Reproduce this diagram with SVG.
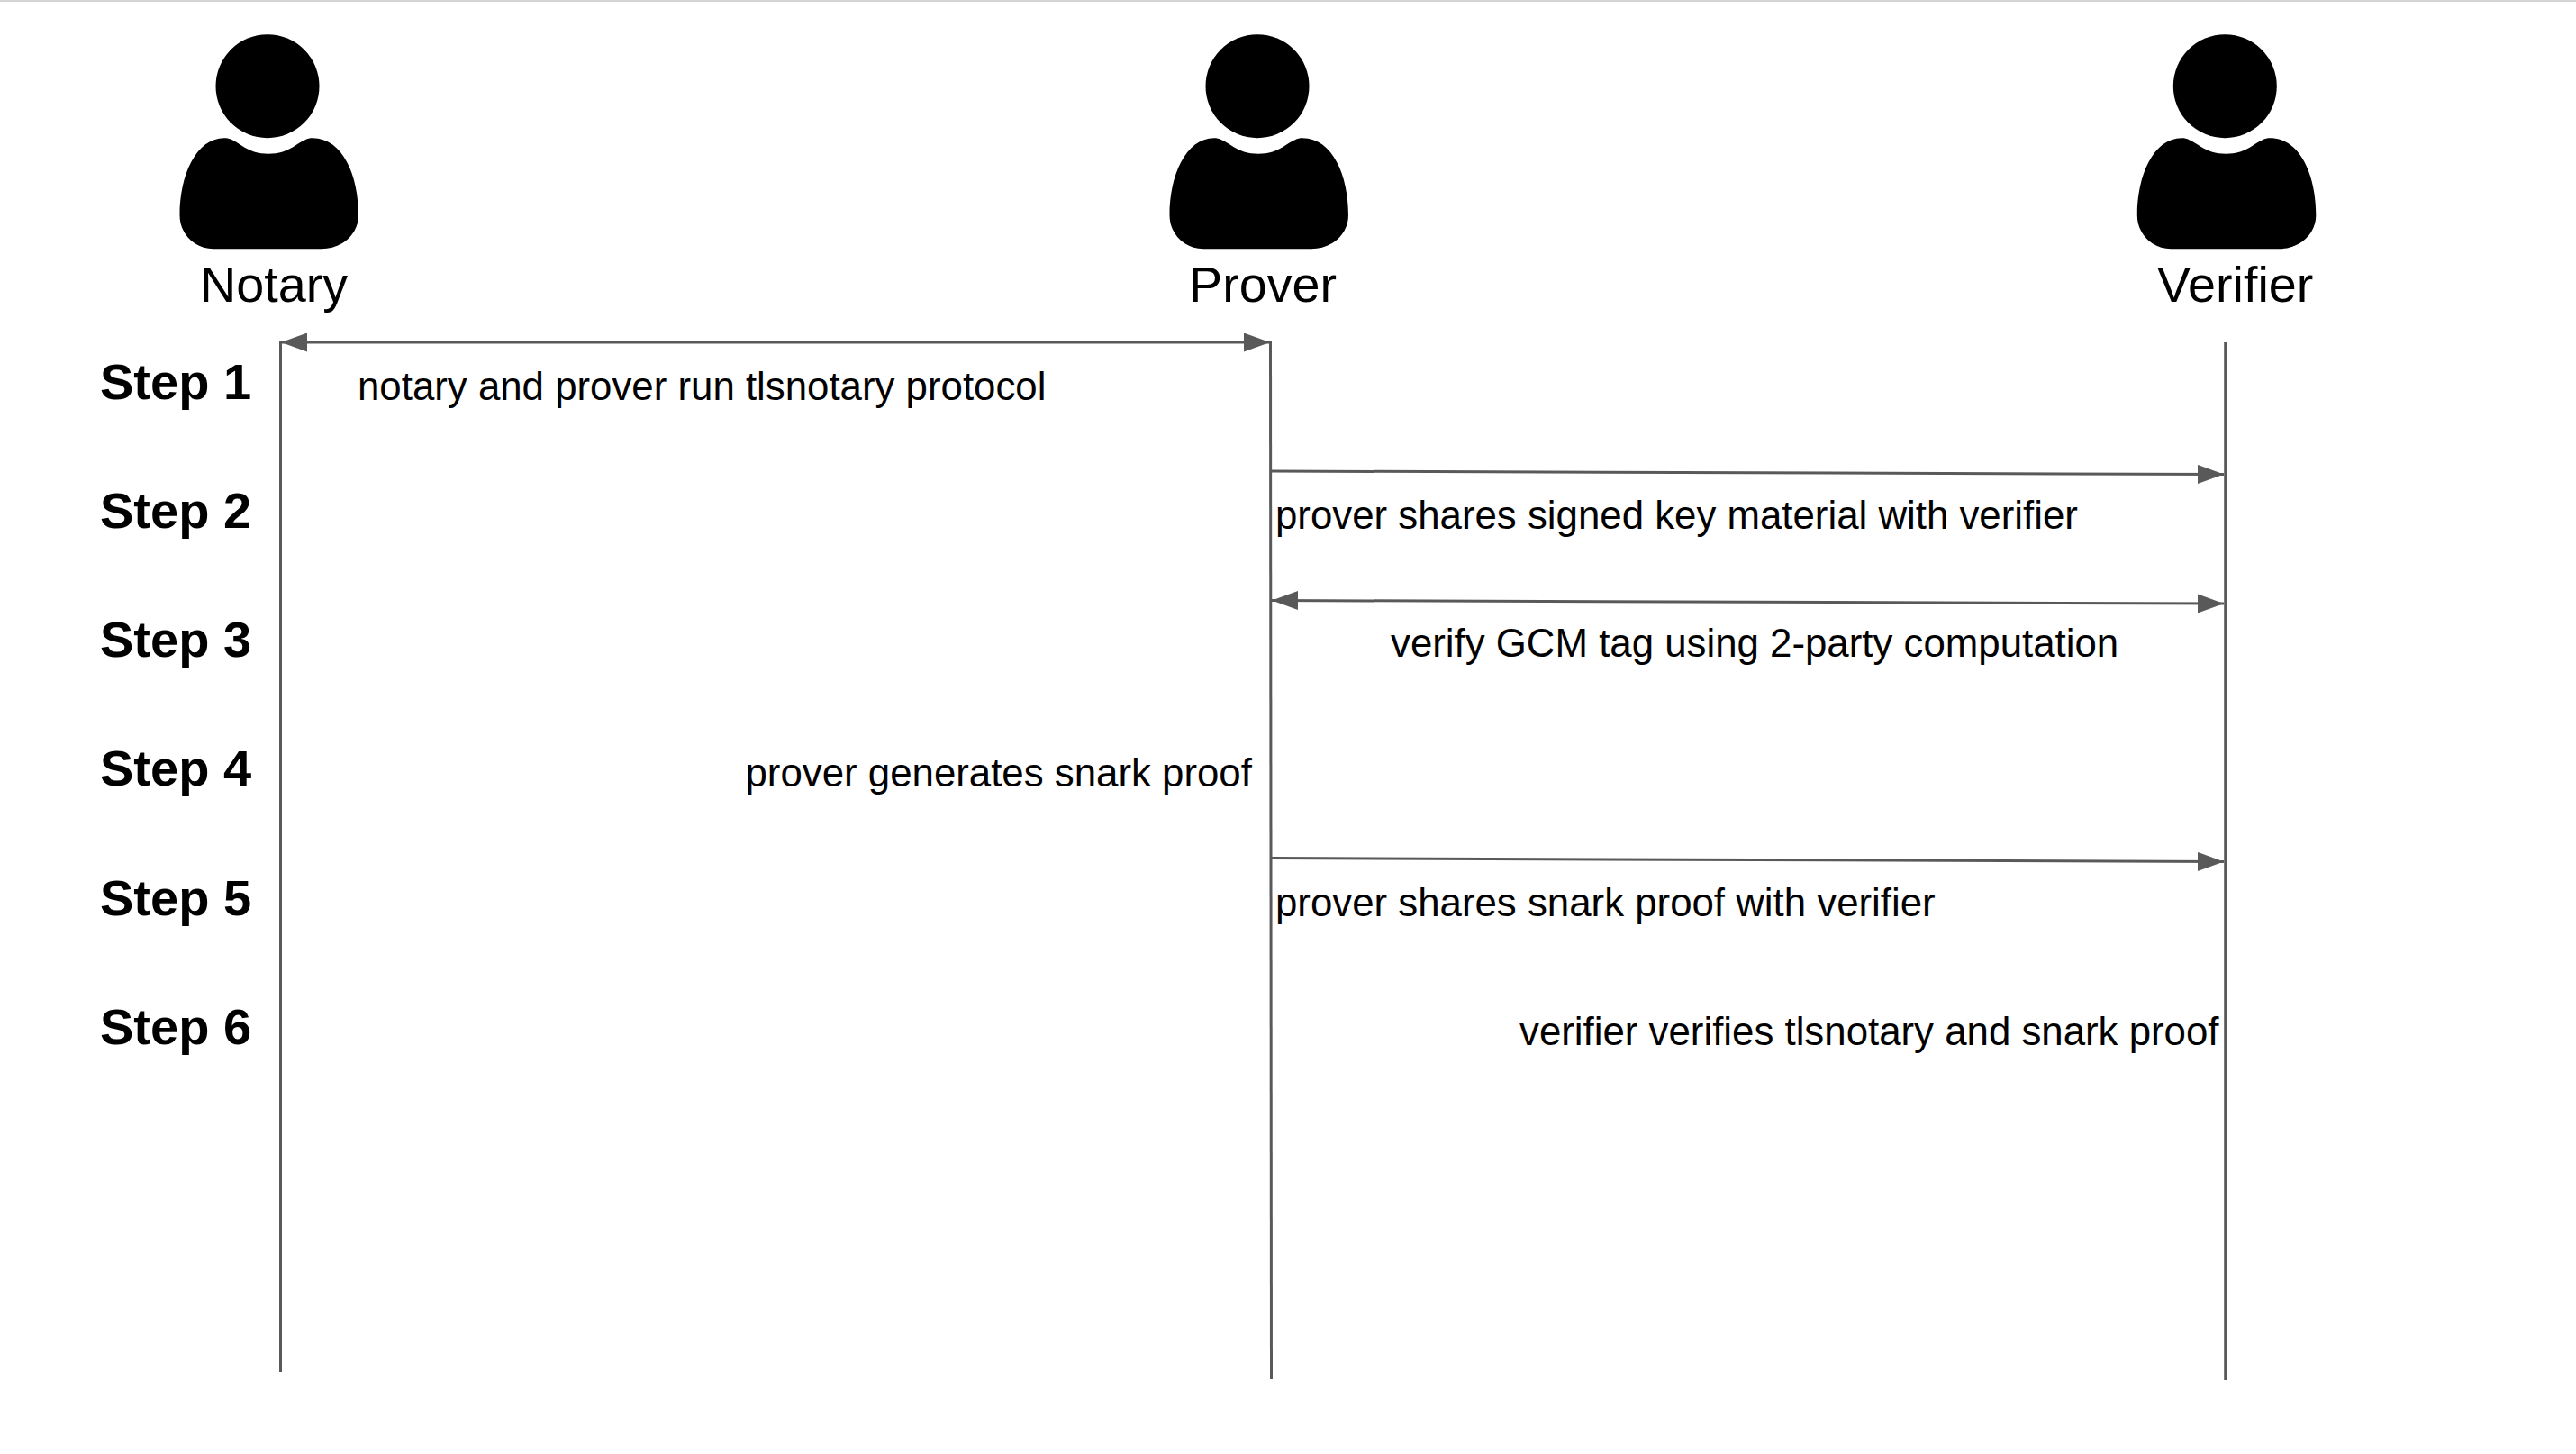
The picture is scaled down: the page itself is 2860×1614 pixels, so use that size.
<svg xmlns="http://www.w3.org/2000/svg" width="2860" height="1614" viewBox="0 0 2860 1614">
<style>
text{font-family:"Liberation Sans",Arial,sans-serif;fill:#000}
.actor{font-size:55.700px}
.step{font-size:56px;font-weight:bold}
.msg{font-size:43.800px}
.ln{stroke:#595959;stroke-width:3;fill:none}
.ah{fill:#595959}
</style>
<defs>
<g id="person">
<circle cx="0" cy="0" r="57.5"/>
<path d="M-48 57.500C-42 57.500-38 60-30 65C-20 72-10 75 1 75C12 75 22 72 32 65C40 60 44 57.500 50 57.500C84 57.500 101 100 101 143C101 165 82 180.500 60 180.500H-60C-80 180.500-97.500 165-97.500 143C-97.500 100-80 57.500-48 57.500Z"/>
</g>
<marker id="end" markerUnits="userSpaceOnUse" markerWidth="30" markerHeight="22" refX="29" refY="10.500" orient="auto"><path class="ah" d="M0 0L29 10.500L0 21Z"/></marker>
<marker id="start" markerUnits="userSpaceOnUse" markerWidth="30" markerHeight="22" refX="1" refY="10.500" orient="auto"><path class="ah" d="M30 0L1 10.500L30 21Z"/></marker>
</defs>
<rect x="0" y="0" width="2860" height="2" fill="#d4d4d4"/>
<g id="notary"><use href="#person" x="297" y="95.700"/><text class="actor" x="222" y="335">Notary</text></g>
<g id="prover"><use href="#person" x="1396" y="95.700"/><text class="actor" x="1320" y="335">Prover</text></g>
<g id="verifier"><use href="#person" x="2470.300" y="95.700"/><text class="actor" x="2395" y="335">Verifier</text></g>
<g id="connectors">
<line class="ln" x1="311.500" y1="379" x2="311.500" y2="1523"/>
<line class="ln" x1="1410.500" y1="379" x2="1411.500" y2="1531"/>
<line class="ln" x1="2470.700" y1="380" x2="2470.700" y2="1532"/>
<line class="ln" x1="312" y1="380" x2="1410" y2="380" marker-start="url(#start)" marker-end="url(#end)"/>
<line class="ln" x1="1411" y1="523" x2="2469" y2="526.500" marker-end="url(#end)"/>
<line class="ln" x1="1412" y1="666.500" x2="2469" y2="670" marker-start="url(#start)" marker-end="url(#end)"/>
<line class="ln" x1="1411" y1="952.500" x2="2469" y2="956.500" marker-end="url(#end)"/>
</g>
<g id="steps">
<text class="step" x="111" y="443">Step 1</text>
<text class="step" x="111" y="586">Step 2</text>
<text class="step" x="111" y="729">Step 3</text>
<text class="step" x="111" y="872">Step 4</text>
<text class="step" x="111" y="1016">Step 5</text>
<text class="step" x="111" y="1159">Step 6</text>
</g>
<g id="messages">
<text class="msg" x="397" y="443.500">notary and prover run tlsnotary protocol</text>
<text class="msg" x="1416" y="586.500">prover shares signed key material with verifier</text>
<text class="msg" x="1544" y="729">verify GCM tag using 2-party computation</text>
<text class="msg" x="827.500" y="872.500">prover generates snark proof</text>
<text class="msg" x="1416" y="1016.500">prover shares snark proof with verifier</text>
<text class="msg" x="1687" y="1159.500">verifier verifies tlsnotary and snark proof</text>
</g>
</svg>
